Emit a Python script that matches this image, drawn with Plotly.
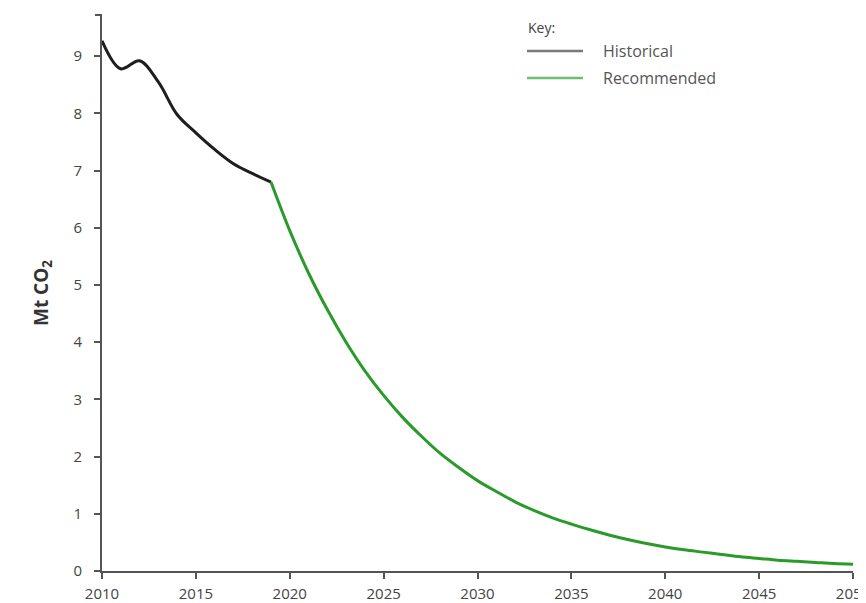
import plotly.graph_objects as go

hist_years = [2010, 2011, 2012, 2013, 2014, 2015, 2016, 2017, 2018, 2019]
hist_values = [9.27, 8.78, 8.92, 8.55, 7.98, 7.66, 7.37, 7.12, 6.95, 6.80]

rec_years = list(range(2019, 2051))
rec_values = [6.80, 5.95, 5.21, 4.57, 4.00, 3.50, 3.07, 2.69, 2.36, 2.06,
              1.81, 1.58, 1.39, 1.21, 1.06, 0.93, 0.82, 0.72, 0.63, 0.55,
              0.48, 0.42, 0.37, 0.33, 0.29, 0.25, 0.22, 0.19, 0.17, 0.15,
              0.13, 0.12]

x_ticks = [2010, 2015, 2020, 2025, 2030, 2035, 2040, 2045, 2050]
y_ticks = [0, 1, 2, 3, 4, 5, 6, 7, 8, 9]

FONT = "Open Sans"
AX = "#555555"
OFF = 8  # page body margin offset
L, R, T, B = 102 - OFF, 21, 15 - OFF, 40
W, H = 866, 603
PW, PH = W - L - R, H - T - B


def px(xp):
    return (xp - OFF - L) / PW


def py(yp):
    return (H - B - (yp - OFF)) / PH


fig = go.Figure()
fig.add_trace(go.Scatter(x=hist_years, y=hist_values, mode="lines", name="Historical",
                         line=dict(color="#1e1e1e", width=3, shape="spline", smoothing=1.0),
                         showlegend=False))
fig.add_trace(go.Scatter(x=rec_years, y=rec_values, mode="lines", name="Recommended",
                         line=dict(color="#2a9a2a", width=3, shape="spline"),
                         showlegend=False))

# key (legend)
fig.add_annotation(xref="paper", yref="paper", x=px(526), y=py(28),
                   text="Key:", showarrow=False, xanchor="left", yanchor="middle",
                   font=dict(family=FONT, size=14, color="#444"))
for name, col, ypix in [("Historical", "#7a7a7a", 51), ("Recommended", "#6cc06c", 78)]:
    fig.add_shape(type="line", xref="paper", yref="paper",
                  x0=px(527), x1=px(583), y0=py(ypix), y1=py(ypix),
                  line=dict(color=col, width=2.5))
    fig.add_annotation(xref="paper", yref="paper", x=px(601), y=py(ypix),
                       text=name, showarrow=False, xanchor="left", yanchor="middle",
                       font=dict(family=FONT, size=16, color="#555"))

fig.update_layout(
    width=W, height=H,
    margin=dict(l=L, r=R, t=T, b=B),
    paper_bgcolor="white", plot_bgcolor="white",
    font=dict(family=FONT, size=15, color="#444"),
    xaxis=dict(range=[2010, 2050], tickvals=x_ticks, showgrid=False, zeroline=False,
               showline=True, linecolor=AX, linewidth=2, ticks="outside",
               tickcolor=AX, ticklen=6, tickwidth=1.5, tickfont=dict(size=15),
               automargin=False, ticklabeloverflow="allow", ticklabelstandoff=2),
    yaxis=dict(range=[0, 9.72], tickvals=y_ticks, showgrid=False, zeroline=False,
               showline=True, linecolor=AX, linewidth=2, ticks="outside",
               tickcolor=AX, ticklen=6, tickwidth=1.5, tickfont=dict(size=15),
               automargin=False, ticklabelstandoff=9,
               title=dict(text="<b>Mt CO<sub>2</sub></b>", standoff=20,
                          font=dict(family=FONT, size=19, color="#333"))),
)
# outer tick at top of y axis
fig.add_shape(type="line", xref="paper", yref="paper", x0=-7 / PW, x1=0, y0=1, y1=1,
              line=dict(color=AX, width=2))

fig.write_html("out.html")
